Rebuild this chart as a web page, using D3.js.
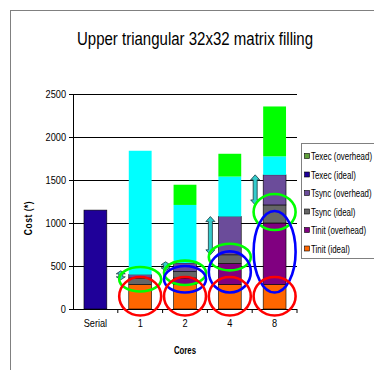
<!DOCTYPE html>
<html>
<head>
<meta charset="utf-8">
<script src="https://cdn.jsdelivr.net/npm/d3@7"></script>
<style>
  html, body { margin: 0; padding: 0; background: #fff; }
  svg { display: block; }
  text { font-family: "Liberation Sans", Arial, sans-serif; fill: #000; }
</style>
</head>
<body>
<svg id="chart" width="374" height="370"></svg>
<script>
// Categories along the x axis
const categories = ["Serial", "1", "2", "4", "8"];

// Stacked series, bottom to top
const seriesNames = ["Tinit (ideal)", "Tinit (overhead)", "Tsync (ideal)", "Tsync (overhead)", "Texec (ideal)", "Texec (overhead)"];
const tinitIdeal    = [0,    285, 285, 285, 285];
const tinitOverhead = [0,    0,   75,  245, 715];
const tsyncIdeal    = [0,    75,  75,  100, 210];
const tsyncOverhead = [0,    40,  100, 445, 350];
const texecIdeal    = [1150, 1440, 675, 465, 215];
const texecOverhead = [0,    0,   235, 265, 580];

// Legend order (top to bottom)
const legendOrder = ["Texec (overhead)", "Texec (ideal)", "Tsync (overhead)", "Tsync (ideal)", "Tinit (overhead)", "Tinit (ideal)"];

const yTicks = [0, 500, 1000, 1500, 2000, 2500];

const seriesValues = [tinitIdeal, tinitOverhead, tsyncIdeal, tsyncOverhead, texecIdeal, texecOverhead];
const seriesColor = {
  "Tinit (ideal)": "#ff6600",
  "Tinit (overhead)": "#800080",
  "Tsync (ideal)": "#666666",
  "Tsync (overhead)": "#6b4c9a",
  "Texec (ideal)": "#1f0099",
  "Texec (overhead)": "#00ff00"
};
const legendColor = Object.assign({}, seriesColor, { "Texec (overhead)": "#5fa03a" });
// Parallel runs show execution time in bright cyan; the serial run keeps the series colour
function barColor(key, cat) {
  if (key === "Texec (ideal)" && cat !== "Serial") return "#00ffff";
  return seriesColor[key];
}
const noOutline = new Set(["Texec (overhead)"]);

// Narrow-type look: squeeze a text horizontally
function condense(sel, factor) {
  sel.each(function () {
    const w = this.getComputedTextLength();
    d3.select(this).attr("textLength", w * factor).attr("lengthAdjust", "spacingAndGlyphs");
  });
}

const table = categories.map((c, i) => {
  const row = { cat: c };
  seriesNames.forEach((s, j) => row[s] = seriesValues[j][i]);
  return row;
});

const svg = d3.select("#chart");

// Outer frame
svg.append("rect").attr("x", 10.5).attr("y", 10.5).attr("width", 420).attr("height", 420)
  .attr("fill", "none").attr("stroke", "#808080").attr("stroke-width", 1);

const plot = { left: 73, right: 297, top: 94, bottom: 309 };

const x = d3.scaleBand().domain(categories).range([plot.left, plot.right]).paddingInner(0.49).paddingOuter(0.245);
const xOuter = d3.scaleBand().domain(categories).range([plot.left, plot.right]);
const y = d3.scaleLinear().domain([0, 2500]).range([plot.bottom, plot.top]);

// Gridlines
svg.append("g").selectAll("line").data(yTicks.filter(t => t > 0)).join("line")
  .attr("x1", plot.left).attr("x2", plot.right)
  .attr("y1", d => Math.round(y(d)) + 0.5).attr("y2", d => Math.round(y(d)) + 0.5)
  .attr("stroke", "#000").attr("stroke-width", 1);

// Stacked bars
const stack = d3.stack().keys(seriesNames)(table);
const layers = svg.append("g").selectAll("g").data(stack).join("g");
layers.selectAll("rect").data(L => L.map(d => ({ key: L.key, d })).filter(o => o.d[1] - o.d[0] > 0)).join("rect")
  .attr("x", o => x(o.d.data.cat))
  .attr("width", x.bandwidth())
  .attr("y", o => y(o.d[1]))
  .attr("height", o => y(o.d[0]) - y(o.d[1]))
  .attr("fill", o => barColor(o.key, o.d.data.cat))
  .attr("stroke", o => (noOutline.has(o.key) || barColor(o.key, o.d.data.cat) === "#00ffff") ? "none" : "#000")
  .attr("stroke-width", 0.6);

// Axes
const yAxis = svg.append("g").attr("transform", `translate(${plot.left},0)`)
  .call(d3.axisLeft(y).tickValues(yTicks).tickSize(4).tickPadding(3).tickFormat(d3.format("d")));
yAxis.select(".domain").attr("stroke", "#000");
yAxis.selectAll("text").style("font-size", "11.5px").call(condense, 0.8);

const xAxis = svg.append("g").attr("transform", `translate(0,${plot.bottom})`)
  .call(d3.axisBottom(xOuter).tickSize(0).tickPadding(10));
xAxis.select(".domain").attr("stroke", "#000").attr("d", `M${plot.left},0.5H${plot.right}`);
xAxis.selectAll("text").style("font-size", "11.5px").call(condense, 0.8);
// Category separators below the x axis
svg.append("g").selectAll("line").data(categories.slice(1).concat(["end"])).join("line")
  .attr("x1", d => d === "end" ? plot.right : xOuter(d)).attr("x2", d => d === "end" ? plot.right : xOuter(d))
  .attr("y1", plot.bottom).attr("y2", plot.bottom + 4)
  .attr("stroke", "#000");

// Annotations: double arrows spanning the sync overhead
const cats = categories.slice(1);
const segBounds = (cat, key) => {
  const L = stack.find(s => s.key === key);
  const d = L[categories.indexOf(cat)];
  return [d[0], d[1]];
};
const arrowG = svg.append("g");
cats.forEach(c => {
  const [lo, hi] = segBounds(c, "Tsync (overhead)");
  const cx = x(c) - 8;
  let y0 = y(hi), y1 = y(lo);
  if (y1 - y0 < 9) { const m = (y0 + y1) / 2 - 1; y0 = m - 4.5; y1 = m + 4.5; }
  const head = Math.min(5, (y1 - y0) / 3), hw = 4.5, sw = 2;
  const p = [
    [cx, y0], [cx + hw, y0 + head], [cx + sw, y0 + head], [cx + sw, y1 - head], [cx + hw, y1 - head],
    [cx, y1], [cx - hw, y1 - head], [cx - sw, y1 - head], [cx - sw, y0 + head], [cx - hw, y0 + head]
  ];
  arrowG.append("path").attr("d", "M" + p.map(q => q.join(",")).join("L") + "Z")
    .attr("fill", "#33cccc").attr("stroke", "#1a3a40").attr("stroke-width", 0.8);
});

// Annotations: ellipses around segments of interest
function ring(key, color, pad, shift) {
  const g = svg.append("g");
  cats.forEach(c => {
    const [lo, hi] = segBounds(c, key);
    if (hi - lo <= 0) return;
    const cy = (y(lo) + y(hi)) / 2 + shift;
    const ry = (y(lo) - y(hi)) / 2 + pad;
    g.append("ellipse").attr("cx", x(c) + x.bandwidth() / 2).attr("cy", cy)
      .attr("rx", 21).attr("ry", ry)
      .attr("fill", "none").attr("stroke", color).attr("stroke-width", 2.6);
  });
}
ring("Tsync (ideal)", "#00ff00", 9, -2);
ring("Tinit (overhead)", "#0000ff", 10, -2);
ring("Tinit (ideal)", "#ff0000", 7, -0.5);

// Title
svg.append("text").attr("x", 195).attr("y", 45).attr("text-anchor", "middle")
  .style("font-size", "17.5px")
  .text("Upper triangular 32x32 matrix filling")
  .attr("textLength", 236).attr("lengthAdjust", "spacingAndGlyphs");

// Axis titles
svg.append("text").attr("transform", "translate(32,218) rotate(-90)").attr("text-anchor", "middle")
  .style("font-size", "10px").style("font-weight", "bold").style("letter-spacing", "0.6px")
  .text("Cost (*)").call(condense, 0.85);
svg.append("text").attr("x", 185).attr("y", 354).attr("text-anchor", "middle")
  .style("font-size", "10px").style("font-weight", "bold")
  .text("Cores").call(condense, 0.78);

// Legend
const lg = svg.append("g");
lg.append("rect").attr("x", 301.5).attr("y", 143.5).attr("width", 90).attr("height", 115)
  .attr("fill", "#fff").attr("stroke", "#808080");
legendOrder.forEach((k, i) => {
  const cy = 156 + i * 18.5;
  lg.append("rect").attr("x", 304.5).attr("y", cy - 2.5).attr("width", 5).attr("height", 5)
    .attr("fill", legendColor[k]).attr("stroke", "#000").attr("stroke-width", 0.6);
  // Labels are laid out at a smaller size and stretched vertically to read as a narrow face
  lg.append("text").attr("transform", `translate(311,${cy + 4}) scale(1,1.4)`)
    .style("font-size", "7.9px")
    .text(k);
});
</script>
</body>
</html>
